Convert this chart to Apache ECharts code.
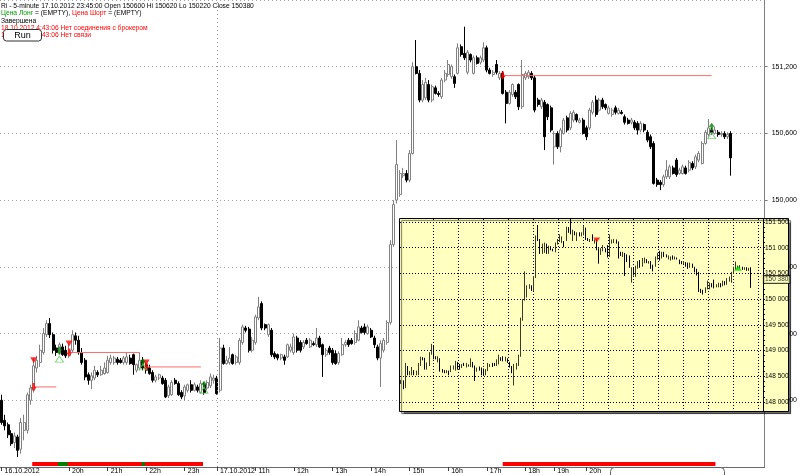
<!DOCTYPE html>
<html><head><meta charset="utf-8">
<script src="https://cdn.jsdelivr.net/npm/echarts@6/dist/echarts.min.js"></script>
<style>html,body{margin:0;padding:0;background:#fff}#c{width:800px;height:475px}</style>
</head><body><div id="c"></div>
<script>
// ---- sessions of 5-minute bars (date, hour, minute, bar count) ----
const sessions = [['16.10.2012',18,0,9],['16.10.2012',19,0,58],['17.10.2012',10,0,105],['17.10.2012',19,0,10],['17.10.2012',20,0,46]];
// ---- tick labels ----
const tickIdx  = [0,21,33,45,57,67,79,91,103,115,127,139,151,163,172,182];
const tickText = ['16.10.2012','20h','21h','22h','23h','17.10.2012','11h','12h','13h','14h','15h','16h','17h','18h','19h','20h'];
// ---- OHLC ----
const opens = [148200,148020,147980,147900,147820,147870,147760,147930,147930,148200,
148290,148490,148540,148630,148790,148890,148790,148670,148630,148680,
148650,148600,148650,148780,148740,148630,148560,148430,148380,148400,
148450,148430,148440,148450,148540,148540,148570,148560,148540,148540,
148580,148610,148470,148490,148560,148520,148490,148450,148380,148400,
148400,148380,148240,148250,148380,148350,148270,148240,148290,148340,
148290,148320,148270,148340,148310,148330,148380,148400,148290,148670,
148530,148540,148610,148540,148540,148720,148850,148840,148650,148720,
148940,149070,148880,148790,148830,148620,148610,148580,148590,148590,
148650,148630,148760,148720,148680,148740,148680,148710,148700,148760,
148700,148610,148670,148650,148620,148540,148610,148700,148740,148740,
148720,148740,148850,148860,148800,148830,148760,148680,148580,148650,
148720,148900,149600,150000,150050,150220,150240,150180,150420,151200,
151140,150900,150920,151040,150900,151010,150960,150930,151080,151130,
151110,151110,151140,151380,151320,151150,151310,151140,151280,151240,
151260,151370,151170,151130,151220,151100,151140,150970,150870,150950,
150970,151040,150840,151100,151110,151140,151100,150900,150840,150880,
150860,150830,150480,150600,150480,150600,150740,150650,150720,150770,
150700,150720,150650,150650,150790,150900,150810,150900,150860,150780,
150770,150830,150780,150790,150750,150720,150700,150700,150690,150630,
150680,150610,150570,150510,150180,150160,150140,150210,150210,150290,
150360,150240,150240,150290,150270,150330,150300,150360,150330,150510,
150590,150630,150600,150610,150590,150600,150570,150600];
const closes = [148000,147970,147890,147810,147880,147750,148000,148000,148250,148310,
148510,148560,148650,148800,148890,148790,148650,148630,148700,148610,
148600,148650,148790,148740,148630,148540,148410,148380,148420,148470,
148430,148470,148490,148560,148580,148580,148540,148540,148580,148590,
148530,148520,148520,148560,148490,148470,148440,148380,148410,148430,
148350,148230,148320,148360,148350,148250,148230,148320,148340,148290,
148340,148290,148350,148270,148360,148410,148400,148260,148670,148530,
148560,148580,148530,148590,148740,148860,148830,148650,148740,148950,
149040,148850,148850,148880,148610,148590,148580,148610,148560,148700,
148680,148770,148650,148650,148720,148710,148740,148700,148760,148680,
148610,148650,148630,148540,148530,148620,148700,148720,148700,148710,
148800,148860,148810,148810,148860,148770,148700,148580,148710,148740,
148900,149600,149960,150320,150240,150240,150180,150420,151200,151140,
150900,151040,151060,150900,151020,150960,150950,151080,151140,151220,
151200,151050,151370,151310,151280,151330,151260,151280,151230,151280,
151370,151170,151140,151150,151150,151140,150960,150870,150970,151040,
150930,150840,151130,151140,151150,151100,150810,150860,150900,150570,
150750,150630,150600,150480,150630,150720,150630,150780,150790,150720,
150720,150600,150570,150810,150880,150770,150900,150840,150830,150830,
150810,150790,150810,150780,150700,150690,150720,150650,150630,150690,
150630,150540,150480,150150,150140,150140,150210,150270,150300,150240,
150230,150270,150300,150240,150340,150290,150390,150420,150510,150610,
150650,150610,150630,150590,150600,150570,150590,150380];
const highs = [148250,148070,148000,147930,147910,147890,148040,148070,148270,148340,
148580,148600,148700,148850,148920,148940,148810,148700,148720,148710,
148690,148710,148830,148810,148780,148670,148580,148450,148450,148510,
148470,148510,148540,148600,148610,148600,148590,148580,148600,148630,
148610,148620,148530,148630,148590,148540,148520,148470,148430,148440,
148420,148400,148340,148380,148400,148370,148290,148340,148350,148380,
148360,148340,148380,148360,148380,148440,148430,148420,148760,148700,
148600,148680,148620,148610,148760,148880,148870,148860,148770,148970,
149130,149090,148890,148890,148850,148640,148620,148620,148610,148710,
148710,148800,148780,148740,148740,148760,148760,148730,148850,148780,
148710,148670,148690,148670,148650,148640,148760,148740,148760,148760,
148830,148920,148870,148890,148880,148850,148780,148700,148740,148760,
148920,149640,150000,150540,150270,150290,150270,150450,151240,151440,
151170,151080,151100,151080,151040,151030,150980,151100,151170,151260,
151220,151130,151410,151400,151560,151350,151320,151300,151300,151300,
151420,151390,151190,151170,151260,151160,151160,150990,150990,151050,
150990,151050,151260,151160,151170,151160,151120,150920,150920,150900,
150870,150850,150620,150620,150650,150740,150760,150800,150810,150780,
150740,150740,150670,150830,150900,150940,150920,150920,150870,150850,
150830,150850,150830,150810,150770,150740,150740,150720,150710,150710,
150690,150630,150590,150530,150200,150180,150230,150360,150320,150310,
150380,150290,150320,150310,150360,150350,150410,150440,150530,150630,
150730,150650,150660,150630,150620,150620,150610,150620];
const lows = [147980,147930,147860,147790,147770,147690,147720,147840,147900,148160,
148270,148450,148500,148610,148770,148760,148620,148600,148610,148600,
148580,148580,148630,148700,148610,148520,148380,148340,148300,148380,
148410,148420,148430,148440,148520,148520,148520,148530,148520,148520,
148520,148430,148450,148470,148470,148440,148430,148360,148360,148380,
148340,148220,148220,148240,148340,148240,148210,148200,148270,148270,
148280,148270,148260,148250,148290,148310,148350,148250,148270,148520,
148520,148520,148520,148520,148520,148700,148810,148630,148630,148700,
148920,148830,148830,148770,148590,148570,148560,148560,148520,148580,
148630,148610,148630,148630,148660,148700,148670,148690,148680,148670,
148410,148590,148610,148520,148520,148520,148600,148680,148680,148700,
148700,148730,148800,148790,148790,148760,148670,148560,148320,148630,
148700,148880,149580,149970,150030,150200,150160,150160,150410,151130,
150880,150880,150900,150880,150880,150950,150930,150910,151060,151110,
151090,151010,151130,151290,151260,151130,151240,151130,151220,151220,
151240,151150,151130,151110,151130,151080,150950,150690,150860,150930,
150910,150810,150820,151080,151090,151080,150790,150840,150820,150450,
150720,150610,150320,150460,150430,150590,150610,150630,150700,150700,
150690,150590,150540,150630,150770,150750,150790,150820,150810,150770,
150750,150770,150770,150770,150680,150680,150680,150630,150590,150610,
150610,150520,150460,150140,150120,150090,150120,150190,150190,150230,
150210,150230,150230,150230,150250,150270,150280,150340,150320,150500,
150570,150590,150590,150570,150570,150550,150550,150220];
// ---- trading signals ----
const sellTriangles = [[10,148560],[21,148710],[45,148540]];
const sellArrows    = [[10,148320],[21,148630],[45,148500],[156,151120]];
const buyArrows     = [[18,148650],[44,148540],[63,148340],[221,150660]];
const buyOutlines   = [[18,148570],[44,148500],[63,148290],[221,150580]];
const levelLines    = [[10,17,148320],[21,43,148630],[45,62,148500],[156,221,151120]];
const shortSpans = [[10,62],[156,221]];
const longSpans  = [[18,20],[44,44]];
const lastPrice = 150380;
// ---- inset ----
const insetStart = 66;
const insetSell = [[156,151150]];
const insetBuy  = [[221,150600]];

// build categories
const categories = [];
sessions.forEach(([d,h,m,n])=>{let t=h*60+m;for(let k=0;k<n;k++){const hh=Math.floor(t/60),mm=t%60;categories.push(d+' '+String(hh).padStart(2,'0')+':'+String(mm).padStart(2,'0'));t+=5;}});
const mainCats = categories.concat(Array.from({length:10},(_,k)=>'pad'+k));
const insetCats = categories.slice(insetStart).concat(Array.from({length:5},(_,k)=>'ipad'+k));
const candles = opens.map((o,i)=>[o,closes[i],lows[i],highs[i]]);
const tickMap = {}; tickIdx.forEach((ix,k)=>tickMap[ix]=tickText[k]);

const FONT = '"Liberation Sans", Arial, sans-serif';
const arrowUp = 'path://M5,0 L10,5 L7,5 L7,10 L3,10 L3,5 L0,5 Z';
const arrowDown = 'path://M3,0 L7,0 L7,5 L10,5 L5,10 L0,5 L3,5 Z';

const series = [
 {type:'candlestick', xAxisIndex:0, yAxisIndex:0, data:candles, barWidth:2.5,
  itemStyle:{color:'#ffffff', color0:'#000000', borderColor:'#808080', borderColor0:'#000000', borderWidth:1},
  markLine:{silent:true, symbol:['none','none'], animation:false,
   data:[
    {xAxis:categories[67], lineStyle:{type:[1,3], color:'#909090', width:1}, label:{show:false}},
    {yAxis:lastPrice, lineStyle:{opacity:0}, label:{show:true, position:'end', formatter:'150,380', color:'#fff', backgroundColor:'#000', fontSize:7, fontFamily:FONT, padding:[1,2,1,2], borderRadius:2, distance:3}}
   ]}},
 {type:'scatter', xAxisIndex:0, yAxisIndex:0, data:sellTriangles, symbol:'triangle', symbolRotate:180, symbolSize:[7,6], itemStyle:{color:'#ff0000'}, z:4},
 {type:'scatter', xAxisIndex:0, yAxisIndex:0, data:sellArrows, symbol:arrowDown, symbolSize:[6,8], itemStyle:{color:'#ff0000'}, z:4},
 {type:'scatter', xAxisIndex:0, yAxisIndex:0, data:buyArrows, symbol:arrowUp, symbolSize:[6,8], itemStyle:{color:'#008000'}, z:4},
 {type:'scatter', xAxisIndex:0, yAxisIndex:0, data:buyOutlines, symbol:'triangle', symbolSize:[8,6], itemStyle:{color:'rgba(0,0,0,0)', borderColor:'#60c860', borderWidth:1}, z:4}
];
// position status band (bar i spans [i, i+1] on the band's value axis)
shortSpans.forEach(([a,b])=>series.push({type:'line', xAxisIndex:1, yAxisIndex:1, data:[[a,0.5],[b+1,0.5]], symbol:'none', lineStyle:{color:'#ff0000', width:4, cap:'butt'}, z:3, silent:true}));
longSpans.forEach(([a,b])=>series.push({type:'line', xAxisIndex:1, yAxisIndex:1, data:[[a,0.5],[b+1,0.5]], symbol:'none', lineStyle:{color:'#008000', width:4, cap:'butt'}, z:4, silent:true}));
levelLines.forEach(([a,b,p])=>series.push({type:'line', xAxisIndex:0, yAxisIndex:0, data:[[a,p],[b,p]], symbol:'none', lineStyle:{color:'#ff6a6a', width:1}, z:3, silent:true}));
// inset series
series.push({type:'candlestick', xAxisIndex:2, yAxisIndex:2, data:candles.slice(insetStart), barWidth:1, clip:false, z:70,
  itemStyle:{color:'#6b6b48', color0:'#000', borderColor:'#3a3a28', borderColor0:'#000', borderWidth:1}});
series.push({type:'scatter', xAxisIndex:2, yAxisIndex:2, data:insetSell.map(([i,p])=>[i-insetStart,p]), symbol:'triangle', symbolRotate:180, symbolSize:[7,5], itemStyle:{color:'#ff0000'}, z:72});
series.push({type:'scatter', xAxisIndex:2, yAxisIndex:2, data:insetBuy.map(([i,p])=>[i-insetStart,p]), symbol:'triangle', symbolSize:[8,5], itemStyle:{color:'#00e000'}, z:72});
series.push({type:'scatter', xAxisIndex:2, yAxisIndex:2, data:[[insetCats.length-1, lastPrice]], symbolSize:0, z:75, silent:true,
  label:{show:true, position:'right', distance:2, formatter:'150 380', color:'#000', backgroundColor:'#ffffc0', borderColor:'#000', borderWidth:1, fontSize:6.5, fontFamily:FONT, padding:[0,1,0,1]}});

const chart = echarts.init(document.getElementById('c'), null, {renderer:'canvas'});
chart.setOption({
 animation:false,
 backgroundColor:'#ffffff',
 textStyle:{fontFamily:FONT},
 grid:[
  {left:0, top:0, width:767, height:467},
  {left:0, top:462, width:767, height:4},
  {left:400, top:222, width:363, height:180},
  {left:433, top:219, width:325, height:192}
 ],
 xAxis:[
  {type:'category', gridIndex:0, data:mainCats, boundaryGap:true,
   axisLine:{show:true, lineStyle:{color:'#6a6a6a'}},
   axisTick:{show:true, alignWithLabel:true, length:4, interval:(i)=>tickMap[i]!==undefined, lineStyle:{color:'#404040'}},
   axisLabel:{show:true, interval:(i)=>tickMap[i]!==undefined, formatter:(v,i)=>tickMap[i]||'', align:'left', verticalAlign:'top', margin:1, padding:[0,0,0,3], fontSize:7, color:'#000', fontFamily:FONT},
   splitLine:{show:false}},
  {type:'value', gridIndex:1, min:0, max:mainCats.length, show:false},
  {type:'category', gridIndex:2, data:insetCats, show:false, boundaryGap:true},
  {type:'value', gridIndex:3, min:0, max:13, interval:1, z:60, axisLine:{show:false}, axisTick:{show:false}, axisLabel:{show:false},
   splitLine:{show:true, lineStyle:{type:[1,2], color:'#000', width:1}}}
 ],
 yAxis:[
  {type:'value', gridIndex:0, position:'right', min:147600, max:151800, interval:600,
   axisLine:{show:true, lineStyle:{color:'#808080'}}, axisTick:{show:true, length:3, lineStyle:{color:'#808080'}},
   axisLabel:{fontSize:7, color:'#000', margin:7, showMinLabel:false, showMaxLabel:false, fontFamily:FONT, formatter:v=>v.toLocaleString('en-US')},
   splitLine:{show:true, lineStyle:{type:[1,3], color:'#a0a0a0'}}},
  {type:'value', gridIndex:1, min:0, max:1, show:false},
  {type:'value', gridIndex:2, position:'right', min:148000, max:151500, interval:500, z:60,
   axisLine:{show:true, lineStyle:{color:'#000'}}, axisTick:{show:true, length:2, lineStyle:{color:'#000'}},
   minorTick:{show:true, splitNumber:5, length:2, lineStyle:{color:'#000'}},
   axisLabel:{fontSize:6.5, color:'#000', margin:2, fontFamily:FONT, formatter:v=>String(v).replace(/(\d{3})$/,' $1')},
   splitLine:{show:true, lineStyle:{type:[1,2], color:'#000'}}},
  {type:'value', gridIndex:3, min:0, max:1, show:false}
 ],
 series,
 graphic:{elements:[
  {type:'rect', z:50, shape:{x:399.5, y:218.5, width:389, height:193}, style:{fill:'#ffffc0', stroke:'#000', lineWidth:1, shadowColor:'rgba(0,0,0,0.55)', shadowOffsetX:2, shadowOffsetY:2, shadowBlur:1}},
  {type:'line', z:61, shape:{x1:763.5, y1:219, x2:763.5, y2:411}, style:{stroke:'#000', lineWidth:1}},
  {type:'text', z:100, style:{text:'Ri - 5-minute 17.10.2012 23:45:00 Open 150600 Hi 150620 Lo 150220 Close 150380', x:1, y:6, verticalAlign:'middle', fontSize:6.7, fontFamily:FONT, fill:'#000'}},
  {type:'text', z:100, style:{text:'{g|Цена Лонг}{k| = (EMPTY), }{r|Цена Шорт}{k| = (EMPTY)}', x:1, y:13.3, verticalAlign:'middle', fontSize:6.7, fontFamily:FONT,
    rich:{g:{fill:'#00a000', fontSize:6.7, fontFamily:FONT}, k:{fill:'#000', fontSize:6.7, fontFamily:FONT}, r:{fill:'#ff0000', fontSize:6.7, fontFamily:FONT}}}},
  {type:'text', z:100, style:{text:'Завершена', x:1, y:20.7, verticalAlign:'middle', fontSize:6.7, fontFamily:FONT, fill:'#000'}},
  {type:'text', z:100, style:{text:'18.10.2012 4:43:06 Нет соединения с брокером', x:1, y:28, verticalAlign:'middle', fontSize:6.7, fontFamily:FONT, fill:'#ff0000'}},
  {type:'text', z:100, style:{text:'18.10.2012 4:43:06 Нет связи', x:1, y:35, verticalAlign:'middle', fontSize:6.7, fontFamily:FONT, fill:'#ff0000'}},
  {type:'rect', z:101, shape:{x:3.5, y:29.5, width:38, height:11.5, r:3}, style:{fill:'#ffffff', stroke:'#303030', lineWidth:1}},
  {type:'text', z:102, style:{text:'Run', x:22.5, y:35.5, align:'center', verticalAlign:'middle', fontSize:9, fontFamily:FONT, fill:'#000'}},
  {type:'rect', z:101, shape:{x:610.5, y:467.5, width:114, height:20, r:4}, style:{fill:'#ffffff', stroke:'#606060', lineWidth:1}}
 ]}
});
</script></body></html>
